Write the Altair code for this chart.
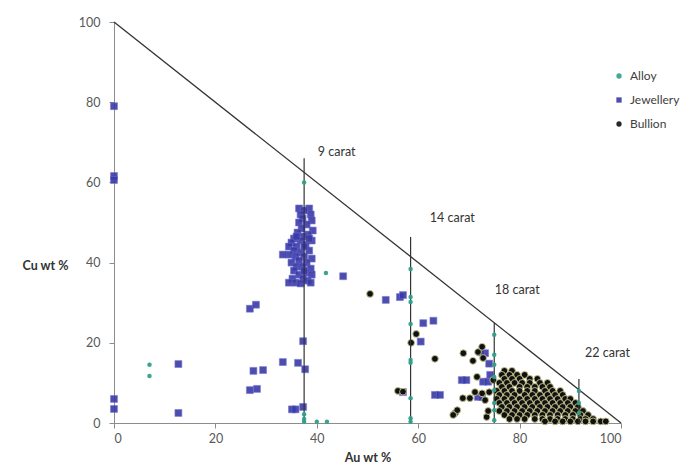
import altair as alt
import pandas as pd

# ---------------- data ----------------
series_names = ["Alloy", "Jewellery", "Bullion"]

alloy_au = [37.5, 37.5, 37.5, 37.5, 40.0, 42.0, 7.0, 7.0, 41.8,
            58.5, 58.5, 58.5, 58.5, 58.5, 58.5, 58.5, 58.5, 58.5,
            75.0, 75.0, 75.0, 75.0, 75.0, 75.0, 75.0, 75.0,
            91.7, 91.7, 91.7]
alloy_cu = [60.0, 2.2, 1.0, 0.3, 0.3, 0.3, 14.5, 11.7, 37.4,
            38.4, 31.4, 30.2, 24.7, 15.7, 15.0, 6.2, 1.2, 0.3,
            22.0, 17.0, 14.5, 11.5, 8.2, 5.0, 3.2, 0.7,
            8.0, 5.0, 2.5]

jew_au = [0, 0, 0, 0, 0, 12.7, 12.7, 26.8, 28.2, 27.5, 29.4, 26.8, 28.0,
          37.3, 33.3, 36.3, 37.7, 35.1, 35.8, 37.3,
          36.5, 38.5, 37.5, 36.8, 38.8, 37.2, 39.0, 36.5, 38.0, 37.0,
          39.2, 36.2, 38.3, 37.4, 35.5, 36.8, 39.0, 35.0, 34.5, 36.0,
          37.8, 35.5, 36.8, 38.5, 34.5, 35.8, 37.5, 39.0, 36.5, 35.0,
          38.0, 36.0, 37.2, 38.8, 35.5, 37.8, 36.5, 39.0, 35.2, 37.3,
          38.2, 34.5, 35.8, 36.8, 38.8, 33.3, 37.5, 37.5, 36.0, 38.5,
          45.2, 53.6, 56.4, 57.0, 61.0, 63.0, 60.5, 57.0, 63.3, 64.3,
          68.6, 69.5, 72.8, 73.8, 71.8, 72.6, 73.2, 72.4, 74.0, 74.2]
jew_cu = [79.0, 61.6, 60.6, 6.0, 3.5, 14.7, 2.5, 8.2, 8.5, 13.0, 13.2, 28.5, 29.5,
          20.4, 15.2, 15.0, 13.4, 3.4, 3.4, 4.0,
          53.5, 53.5, 53.0, 52.0, 52.0, 51.0, 50.5, 50.0, 49.5, 48.5,
          48.0, 47.5, 47.0, 46.5, 46.0, 45.5, 45.5, 45.0, 44.0, 44.0,
          44.5, 43.0, 42.5, 43.0, 42.0, 41.5, 41.5, 41.0, 40.5, 40.0,
          40.0, 39.0, 39.0, 38.5, 38.0, 37.5, 37.0, 37.0, 36.0, 36.0,
          35.5, 35.0, 35.0, 34.8, 35.0, 42.0, 44.0, 38.0, 46.5, 46.0,
          36.6, 30.7, 31.4, 31.9, 24.9, 25.5, 20.3, 7.7, 7.0, 7.0,
          10.7, 10.7, 10.3, 10.3, 6.5, 6.5, 17.4, 17.6, 14.8, 12.0]

bull_au = [50.5, 59.6, 58.6, 63.3, 56.0, 57.0, 67.3, 67.7, 68.9, 70.8,
           71.8, 72.6, 72.8, 71.6, 71.2, 72.6, 68.8, 70.2, 73.2, 66.9,
           73.5, 73.8, 74.8, 74.0,
           77.0, 78.5,
           76.5, 78.0, 79.5, 81.0,
           77.0, 78.5, 80.0, 82.0, 83.5,
           76.0, 77.5, 79.0, 80.5, 82.0, 84.0, 85.5,
           76.5, 78.0, 80.0, 81.5, 83.0, 84.5, 86.0,
           75.5, 77.0, 78.5, 80.0, 81.5, 83.0, 85.0, 86.5, 88.0,
           76.0, 77.5, 79.0, 81.0, 82.5, 84.0, 85.5, 87.0, 88.5,
           75.5, 77.0, 78.5, 80.0, 81.5, 83.0, 84.5, 86.0, 87.5, 89.0, 90.0,
           76.0, 77.5, 79.0, 80.5, 82.0, 83.5, 85.0, 86.5, 88.0, 89.5, 91.0,
           76.5, 78.0, 79.5, 81.0, 82.5, 84.0, 85.5, 87.0, 88.5, 90.0, 91.5,
           76.0, 77.5, 79.0, 80.5, 82.0, 83.5, 85.0, 86.5, 88.0, 89.5, 91.0, 92.5,
           77.0, 78.5, 80.0, 81.5, 83.0, 84.5, 86.0, 87.5, 89.0, 90.5, 92.0, 93.5,
           78.0, 79.5, 81.0, 83.0, 84.5, 86.0, 87.5, 89.0, 90.5, 92.0, 93.0, 94.5,
           85.0, 87.0, 88.5, 90.0, 91.5, 93.0, 94.5, 96.0, 97.0]
bull_cu = [32.2, 22.2, 20.0, 16.0, 8.0, 7.8, 2.5, 3.2, 17.4, 15.5,
           17.7, 19.0, 16.2, 11.5, 7.7, 7.4, 6.2, 6.2, 5.7, 2.0,
           1.5, 3.0, 10.7, 7.7,
           13.0, 13.0,
           12.0, 12.0, 12.0, 12.0,
           11.0, 11.0, 11.0, 11.0, 11.0,
           10.0, 10.0, 10.0, 10.0, 10.0, 10.0, 10.0,
           9.0, 9.0, 9.0, 9.0, 9.0, 9.0, 9.0,
           8.0, 8.0, 8.0, 8.0, 8.0, 8.0, 8.0, 8.0, 8.0,
           7.0, 7.0, 7.0, 7.0, 7.0, 7.0, 7.0, 7.0, 7.0,
           6.0, 6.0, 6.0, 6.0, 6.0, 6.0, 6.0, 6.0, 6.0, 6.0, 6.0,
           5.0, 5.0, 5.0, 5.0, 5.0, 5.0, 5.0, 5.0, 5.0, 5.0, 5.0,
           4.0, 4.0, 4.0, 4.0, 4.0, 4.0, 4.0, 4.0, 4.0, 4.0, 4.0,
           3.0, 3.0, 3.0, 3.0, 3.0, 3.0, 3.0, 3.0, 3.0, 3.0, 3.0, 3.0,
           2.0, 2.0, 2.0, 2.0, 2.0, 2.0, 2.0, 2.0, 2.0, 2.0, 2.0, 2.0,
           1.0, 1.0, 1.0, 1.0, 1.0, 1.0, 1.0, 1.0, 1.0, 1.0, 1.0, 1.0,
           0.4, 0.4, 0.4, 0.4, 0.4, 0.4, 0.4, 0.4, 0.4]

diag_au = [0, 100]
diag_cu = [100, 0]

carat_labels = ["9 carat", "14 carat", "18 carat", "22 carat"]
carat_au = [37.5, 58.5, 75.0, 91.7]
carat_top = [66.0, 46.4, 25.0, 11.0]
label_au = [40.2, 62.3, 75.1, 92.9]
label_cu = [67.6, 51.1, 33.2, 17.5]

axis_ticks = [0, 20, 40, 60, 80, 100]

# ---------------- frames ----------------
alloy_df = pd.DataFrame({"au": alloy_au, "cu": alloy_cu, "type": "Alloy"})
jew_df = pd.DataFrame({"au": jew_au, "cu": jew_cu, "type": "Jewellery"})
bull_df = pd.DataFrame({"au": bull_au, "cu": bull_cu, "type": "Bullion"})
diag_df = pd.DataFrame({"au": diag_au, "cu": diag_cu})
carat_df = pd.DataFrame({"au": carat_au, "top": carat_top,
                         "base": [0] * len(carat_au)})
label_df = pd.DataFrame({"au": label_au, "cu": label_cu, "label": carat_labels})

xs = alt.Scale(domain=[0, 100], nice=False)
ys = alt.Scale(domain=[0, 100], nice=False)

color_scale = alt.Scale(domain=series_names,
                        range=["#2f9f8a", "#3a3aa6", "#111111"])
shape_scale = alt.Scale(domain=series_names,
                        range=["circle", "square", "circle"])

x_enc = alt.X("au:Q", scale=xs, axis=alt.Axis(values=axis_ticks, title="Au wt %",
                                             titlePadding=7))
y_enc = alt.Y("cu:Q", scale=ys, axis=alt.Axis(values=axis_ticks, title="Cu wt %",
                                             titleAngle=0, titleX=-69, titleY=243,
                                             titleAlign="center",
                                             titleBaseline="middle"))

legend = alt.Legend(title=None, orient="none", legendX=499, legendY=48,
                    labelFontSize=12, labelColor="#404040", symbolSize=28,
                    symbolStrokeWidth=0, rowPadding=12, labelOffset=5, padding=0)

color_enc = alt.Color("type:N", scale=color_scale, legend=legend)
shape_enc = alt.Shape("type:N", scale=shape_scale, legend=legend)

jew_layer = alt.Chart(jew_df).mark_point(filled=True, size=48, opacity=0.9,
                                         stroke="#6a6ad0", strokeWidth=0.6).encode(
    x=x_enc, y=y_enc, color=color_enc, shape=shape_enc)

bull_layer = alt.Chart(bull_df).mark_point(filled=True, size=46, opacity=1,
                                           stroke="#c9c98e", strokeWidth=0.9).encode(
    x=x_enc, y=y_enc, color=color_enc, shape=shape_enc)

alloy_layer = alt.Chart(alloy_df).mark_point(filled=True, size=20, opacity=0.95).encode(
    x=x_enc, y=y_enc, color=color_enc, shape=shape_enc)

diag_layer = alt.Chart(diag_df).mark_line(color="#333333", strokeWidth=1.3).encode(
    x=alt.X("au:Q", scale=xs), y=alt.Y("cu:Q", scale=ys))

carat_layer = alt.Chart(carat_df).mark_rule(color="#333333", strokeWidth=1.2).encode(
    x=alt.X("au:Q", scale=xs), y=alt.Y("base:Q", scale=ys), y2="top:Q")

text_layer = alt.Chart(label_df).mark_text(align="left", baseline="middle",
                                           fontSize=12.5, color="#333333",
                                           font="Lato").encode(
    x=alt.X("au:Q", scale=xs), y=alt.Y("cu:Q", scale=ys), text="label:N")

chart = alt.layer(jew_layer, bull_layer, carat_layer, diag_layer, alloy_layer,
                  text_layer).properties(
    width=507, height=401,
    autosize=alt.AutoSizeParams(type="none"),
    padding={"left": 106, "top": 14, "right": 66, "bottom": 43},
).configure(font="Lato").configure_view(stroke=None).configure_axis(
    grid=False, domainColor="#8c8c8c", tickColor="#8c8c8c", tickSize=5,
    labelColor="#595959", labelFontSize=12.5, labelPadding=4,
    titleColor="#333333", titleFontSize=12.5, titleFontWeight="bold",
).configure_axisY(labelPadding=9)

chart.save("out.html", embed_options={"renderer": "svg", "actions": False})
